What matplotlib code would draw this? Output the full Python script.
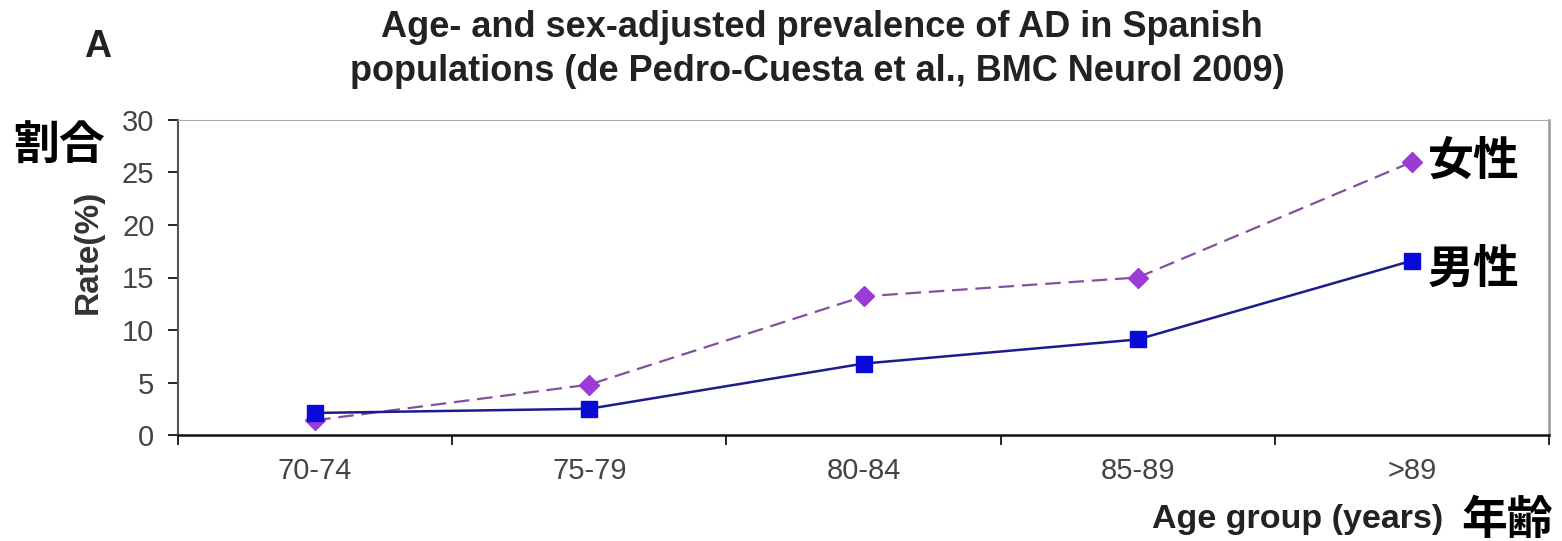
import matplotlib.pyplot as plt

age_groups = ["70-74", "75-79", "80-84", "85-89", ">89"]
male_rate = [2.1, 2.5, 6.8, 9.1, 16.6]
female_rate = [1.4, 4.8, 13.2, 15.0, 26.0]
y_ticks = [0, 5, 10, 15, 20, 25, 30]

plt.rcParams["font.family"] = ["Liberation Sans", "DejaVu Sans"]
W, H = 1562, 541
fig = plt.figure(figsize=(W / 100, H / 100), dpi=100)
ax = fig.add_axes([178 / W, 1 - 435 / H, (1549 - 178) / W, (435 - 120) / H])

x = list(range(len(age_groups)))
ax.plot(x, female_rate, linestyle=(0, (7, 3.5)), color="#84509e", lw=1.6,
        marker="D", markersize=10.5, markerfacecolor="#9a3bd6",
        markeredgecolor="#9a3bd6", zorder=3)
ax.plot(x, male_rate, linestyle="solid", color="#1c1c8c", lw=1.8,
        marker="s", markersize=12, markerfacecolor="#0a0ad8",
        markeredgecolor="#0a0ad8", zorder=4)

ax.set_xlim(-0.5, len(age_groups) - 0.5)
ax.set_ylim(0, 30)
ax.set_yticks(y_ticks)
ax.set_yticklabels([str(v) for v in y_ticks], fontsize=21, color="#444444")
ax.set_xticks(x)
ax.set_xticklabels(age_groups, fontsize=21, color="#444444")
ax.tick_params(axis="x", length=0, pad=16)
ax.set_xticks([i - 0.5 for i in x] + [len(x) - 0.5], minor=True)
ax.tick_params(axis="x", which="minor", length=7, width=1.2, direction="out")
ax.tick_params(axis="y", length=7, width=1.2, direction="out", pad=10)

ax.spines["left"].set_color("#555555")
ax.spines["left"].set_linewidth(1.5)
ax.spines["bottom"].set_color("#111111")
ax.spines["bottom"].set_linewidth(1.8)
ax.spines["top"].set_color("#aaaaaa")
ax.spines["right"].set_color("#999999")
ax.spines["right"].set_linewidth(1.8)

fig.text(97 / W, 1 - 252 / H, "Rate(%)", rotation=90, rotation_mode="anchor",
         ha="center", va="baseline", fontsize=24, fontweight="bold",
         color="#333333")

fig.text(822 / W, 1 - 37 / H, "Age- and sex-adjusted prevalence of AD in Spanish",
         ha="center", va="baseline", fontsize=26, fontweight="bold", color="#222222")
fig.text(817 / W, 1 - 81 / H, "populations (de Pedro-Cuesta et al., BMC Neurol 2009)",
         ha="center", va="baseline", fontsize=26, fontweight="bold", color="#222222")
fig.text(98 / W, 1 - 57 / H, "A", ha="center", va="baseline", fontsize=27,
         fontweight="bold", color="#222222")
fig.text(1443 / W, 1 - 528 / H, "Age group (years)", ha="right", va="baseline",
         fontsize=24.5, fontweight="bold", color="#222222")

jp = ["Noto Sans CJK JP", "DejaVu Sans"]
fig.text(59 / W, 1 - 147 / H, "割合", ha="center", va="center", fontsize=33,
         fontweight="bold", family=jp)
fig.text(1474 / W, 1 - 162 / H, "女性", ha="center", va="center", fontsize=33,
         fontweight="bold", family=jp)
fig.text(1474 / W, 1 - 270 / H, "男性", ha="center", va="center", fontsize=33,
         fontweight="bold", family=jp)
fig.text(1507 / W, 1 - 521 / H, "年齢", ha="center", va="center", fontsize=33,
         fontweight="bold", family=jp)

fig.savefig("out.png", dpi=100)
